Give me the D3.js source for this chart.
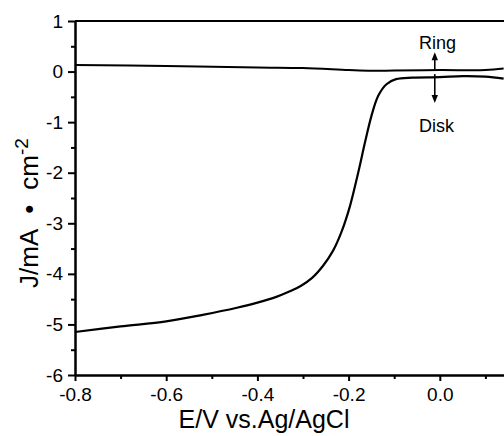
<!DOCTYPE html>
<html>
<head>
<meta charset="utf-8">
<script src="https://cdn.jsdelivr.net/npm/d3@7"></script>
<style>
  body { margin: 0; background: #fff; }
  svg { display: block; font-family: 'Liberation Sans', Arial, sans-serif; }
</style>
</head>
<body>
<svg id="chart" width="504" height="436"></svg>
<script>
// potential (V vs Ag/AgCl) and current density (mA cm-2)
const diskE = [-0.8, -0.7, -0.6, -0.52, -0.445, -0.4, -0.36, -0.33, -0.305, -0.28, -0.256, -0.234, -0.216, -0.197, -0.179, -0.164, -0.15, -0.135, -0.117, -0.096, -0.06, 0.0, 0.05, 0.1, 0.14];
const diskJ = [-5.15, -5.04, -4.94, -4.81, -4.67, -4.57, -4.46, -4.35, -4.24, -4.08, -3.84, -3.54, -3.18, -2.66, -2.0, -1.40, -0.88, -0.48, -0.25, -0.15, -0.12, -0.11, -0.09, -0.1, -0.14];
const ringE = [-0.8, -0.6, -0.4, -0.3, -0.2, -0.15, -0.1, 0.0, 0.1, 0.14];
const ringJ = [0.13, 0.11, 0.08, 0.07, 0.03, 0.015, 0.02, 0.03, 0.03, 0.06];

const xTicks = [-0.8, -0.6, -0.4, -0.2, 0.0];
const xMinor = [-0.7, -0.5, -0.3, -0.1, 0.1];
const yTicks = [-6, -5, -4, -3, -2, -1, 0, 1];
const yMinor = [-5.5, -4.5, -3.5, -2.5, -1.5, -0.5, 0.5];

const svg = d3.select('#chart');
const x = d3.scaleLinear().domain([-0.8, 0.2]).range([75, 531]);
const y = d3.scaleLinear().domain([-6, 1]).range([375, 21]);

// frame (top line, right side falls outside the picture)
svg.append('path')
  .attr('d', `M${x(-0.8)},${y(1)}H${x(0.2)}V${y(-6)}`)
  .attr('fill', 'none').attr('stroke', '#000').attr('stroke-width', 2);

const fmtY = d => String(d);
const fmtX = d => d.toFixed(1);

const gx = svg.append('g').attr('transform', `translate(0,${y(-6)})`);
gx.call(d3.axisBottom(x).tickValues(xMinor).tickSize(4).tickFormat('').tickSizeOuter(0));
const gx2 = svg.append('g').attr('transform', `translate(0,${y(-6)})`);
gx2.call(d3.axisBottom(x).tickValues(xTicks).tickSize(6).tickPadding(7).tickFormat(fmtX).tickSizeOuter(0));

const gy = svg.append('g').attr('transform', `translate(${x(-0.8)},0)`);
gy.call(d3.axisLeft(y).tickValues(yMinor).tickSize(4).tickFormat('').tickSizeOuter(0));
const gy2 = svg.append('g').attr('transform', `translate(${x(-0.8)},0)`);
gy2.call(d3.axisLeft(y).tickValues(yTicks).tickSize(7).tickPadding(5).tickFormat(fmtY).tickSizeOuter(0));

svg.selectAll('.domain').attr('stroke-width', 2);
svg.selectAll('.tick line').attr('stroke-width', 2);
svg.selectAll('.tick text')
  .attr('font-family', "'Liberation Sans', Arial, sans-serif")
  .attr('font-size', 19).attr('fill', '#000');

const line = d3.line().curve(d3.curveCatmullRom.alpha(0.5));

svg.append('path')
  .attr('d', line(ringE.map((e, i) => [x(e), y(ringJ[i])])))
  .attr('fill', 'none').attr('stroke', '#000').attr('stroke-width', 2);

svg.append('path')
  .attr('d', line(diskE.map((e, i) => [x(e), y(diskJ[i])])))
  .attr('fill', 'none').attr('stroke', '#000').attr('stroke-width', 2.2);

// annotations: arrows up to Ring, down to Disk
const ax = x(-0.011);
function arrow(j0, j1) {
  const y0 = y(j0), y1 = y(j1), dir = Math.sign(y1 - y0);
  svg.append('line')
    .attr('x1', ax).attr('x2', ax).attr('y1', y0).attr('y2', y1 - dir * 6)
    .attr('stroke', '#000').attr('stroke-width', 1.6);
  svg.append('path')
    .attr('d', `M${ax},${y1}L${ax - 3.2},${y1 - dir * 8}L${ax + 3.2},${y1 - dir * 8}Z`)
    .attr('fill', '#000');
}
arrow(0.04, 0.38);
arrow(-0.05, -0.62);

svg.append('text').attr('x', x(-0.005)).attr('y', y(0.44))
  .attr('text-anchor', 'middle').attr('font-size', 18).text('Ring');
svg.append('text').attr('x', x(-0.007)).attr('y', y(-1.19))
  .attr('text-anchor', 'middle').attr('font-size', 18).text('Disk');

// axis titles
svg.append('text').attr('x', 264).attr('y', 428)
  .attr('text-anchor', 'middle').attr('font-size', 25).text('E/V vs.Ag/AgCl');

const yt = svg.append('text')
  .attr('transform', 'translate(38,288) rotate(-90)')
  .attr('font-size', 26);
yt.append('tspan').text('J/mA');
yt.append('tspan').attr('dx', 15).text('•');
yt.append('tspan').attr('dx', 15).text('cm');
yt.append('tspan').attr('dy', -10).attr('font-size', 19).text('-2');
</script>
</body>
</html>
